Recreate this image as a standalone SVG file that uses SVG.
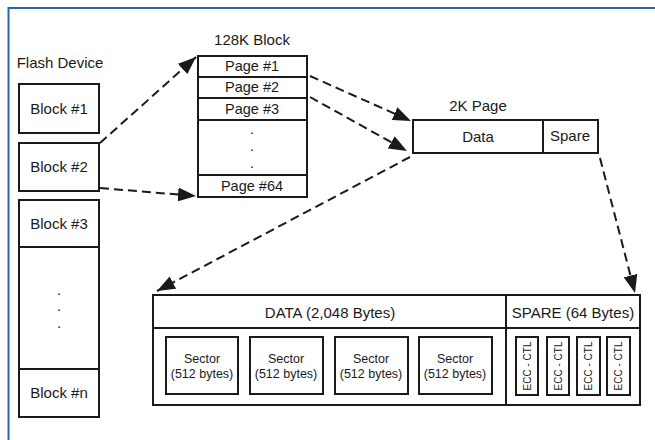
<svg xmlns="http://www.w3.org/2000/svg" width="655" height="440" viewBox="0 0 655 440">
<defs>
<style>
.b{fill:#fff;stroke:#1a1a1a;stroke-width:2}
.t{font-family:"Liberation Sans",Arial,sans-serif;fill:#1a1a1a;text-anchor:middle}
.c{fill:none;stroke:#1a1a1a;stroke-width:2;stroke-dasharray:9,5}
</style>
<marker id="a" viewBox="0 0 18 14" refX="18" refY="7" markerWidth="18" markerHeight="14" markerUnits="userSpaceOnUse" orient="auto">
<path d="M0,0 L18,7 L0,14 z" fill="#1a1a1a"/>
</marker>
</defs>
<rect width="655" height="440" fill="#fff"/>
<path d="M8.5,440 V8 H655" fill="none" stroke="#2a66a6" stroke-width="2"/>

<g id="flash-device">
<text class="t" x="60" y="68" font-size="15">Flash Device</text>
<rect class="b" x="19" y="84" width="80" height="49"/>
<text class="t" x="59" y="114" font-size="15">Block #1</text>
<rect class="b" x="19" y="143" width="80" height="48"/>
<text class="t" x="59" y="172" font-size="15">Block #2</text>
<rect class="b" x="19" y="200" width="80" height="217"/>
<line x1="19" y1="247" x2="99" y2="247" stroke="#1a1a1a" stroke-width="2"/>
<line x1="19" y1="369" x2="99" y2="369" stroke="#1a1a1a" stroke-width="2"/>
<text class="t" x="59" y="229" font-size="15">Block #3</text>
<text class="t" x="59" y="295" font-size="15">.</text>
<text class="t" x="59" y="311" font-size="15">.</text>
<text class="t" x="59" y="328" font-size="15">.</text>
<text class="t" x="59" y="398" font-size="15">Block #n</text>
</g>

<g id="block-128k">
<text class="t" x="252" y="45" font-size="15">128K Block</text>
<rect class="b" x="198" y="56" width="109" height="141"/>
<g stroke="#1a1a1a" stroke-width="2">
<line x1="198" y1="77" x2="307" y2="77"/>
<line x1="198" y1="98" x2="307" y2="98"/>
<line x1="198" y1="120" x2="307" y2="120"/>
<line x1="198" y1="175" x2="307" y2="175"/>
</g>
<text class="t" x="252" y="71" font-size="14.5">Page #1</text>
<text class="t" x="252" y="92" font-size="14.5">Page #2</text>
<text class="t" x="252" y="114" font-size="14.5">Page #3</text>
<text class="t" x="252" y="134" font-size="14.5">.</text>
<text class="t" x="252" y="151" font-size="14.5">.</text>
<text class="t" x="252" y="168" font-size="14.5">.</text>
<text class="t" x="252" y="191" font-size="14.5">Page #64</text>
</g>

<g id="page-2k">
<text class="t" x="478" y="111" font-size="15">2K Page</text>
<rect class="b" x="413" y="120" width="185" height="33"/>
<line x1="543" y1="120" x2="543" y2="153" stroke="#1a1a1a" stroke-width="2"/>
<text class="t" x="478" y="142" font-size="15">Data</text>
<text class="t" x="570" y="141" font-size="15">Spare</text>
</g>

<g id="page-layout">
<rect class="b" x="153" y="295" width="487" height="110"/>
<line x1="153" y1="328" x2="640" y2="328" stroke="#1a1a1a" stroke-width="2"/>
<line x1="506" y1="295" x2="506" y2="405" stroke="#1a1a1a" stroke-width="2"/>
<text class="t" x="330" y="318" font-size="15">DATA (2,048 Bytes)</text>
<text class="t" x="573" y="318" font-size="15">SPARE (64 Bytes)</text>
<g id="sectors">
<rect class="b" x="166" y="337" width="72" height="57"/>
<rect class="b" x="250" y="337" width="73" height="57"/>
<rect class="b" x="335" y="337" width="73" height="57"/>
<rect class="b" x="419" y="337" width="73" height="57"/>
<g font-size="12.5">
<text class="t" x="202" y="363">Sector</text><text class="t" x="202" y="378">(512 bytes)</text>
<text class="t" x="286" y="363">Sector</text><text class="t" x="286" y="378">(512 bytes)</text>
<text class="t" x="371" y="363">Sector</text><text class="t" x="371" y="378">(512 bytes)</text>
<text class="t" x="455" y="363">Sector</text><text class="t" x="455" y="378">(512 bytes)</text>
</g>
</g>
<g id="ecc">
<rect class="b" x="516" y="337" width="22" height="58"/>
<rect class="b" x="547" y="337" width="22" height="58"/>
<rect class="b" x="577" y="337" width="23" height="58"/>
<rect class="b" x="607" y="337" width="23" height="58"/>
<g font-size="10">
<text class="t" transform="translate(531,366) rotate(-90)">ECC - CTL</text>
<text class="t" transform="translate(562,366) rotate(-90)">ECC - CTL</text>
<text class="t" transform="translate(592,366) rotate(-90)">ECC - CTL</text>
<text class="t" transform="translate(622,366) rotate(-90)">ECC - CTL</text>
</g>
</g>
</g>

<g id="connectors">
<line class="c" x1="100" y1="143" x2="196" y2="57" marker-end="url(#a)"/>
<line class="c" x1="100" y1="188" x2="196" y2="196" marker-end="url(#a)"/>
<line class="c" x1="310" y1="76" x2="411" y2="121" marker-end="url(#a)"/>
<line class="c" x1="310" y1="97" x2="407" y2="151" marker-end="url(#a)"/>
<line class="c" x1="410" y1="157" x2="157" y2="291" marker-end="url(#a)"/>
<line class="c" x1="600" y1="158" x2="635" y2="293" marker-end="url(#a)"/>
</g>
</svg>
